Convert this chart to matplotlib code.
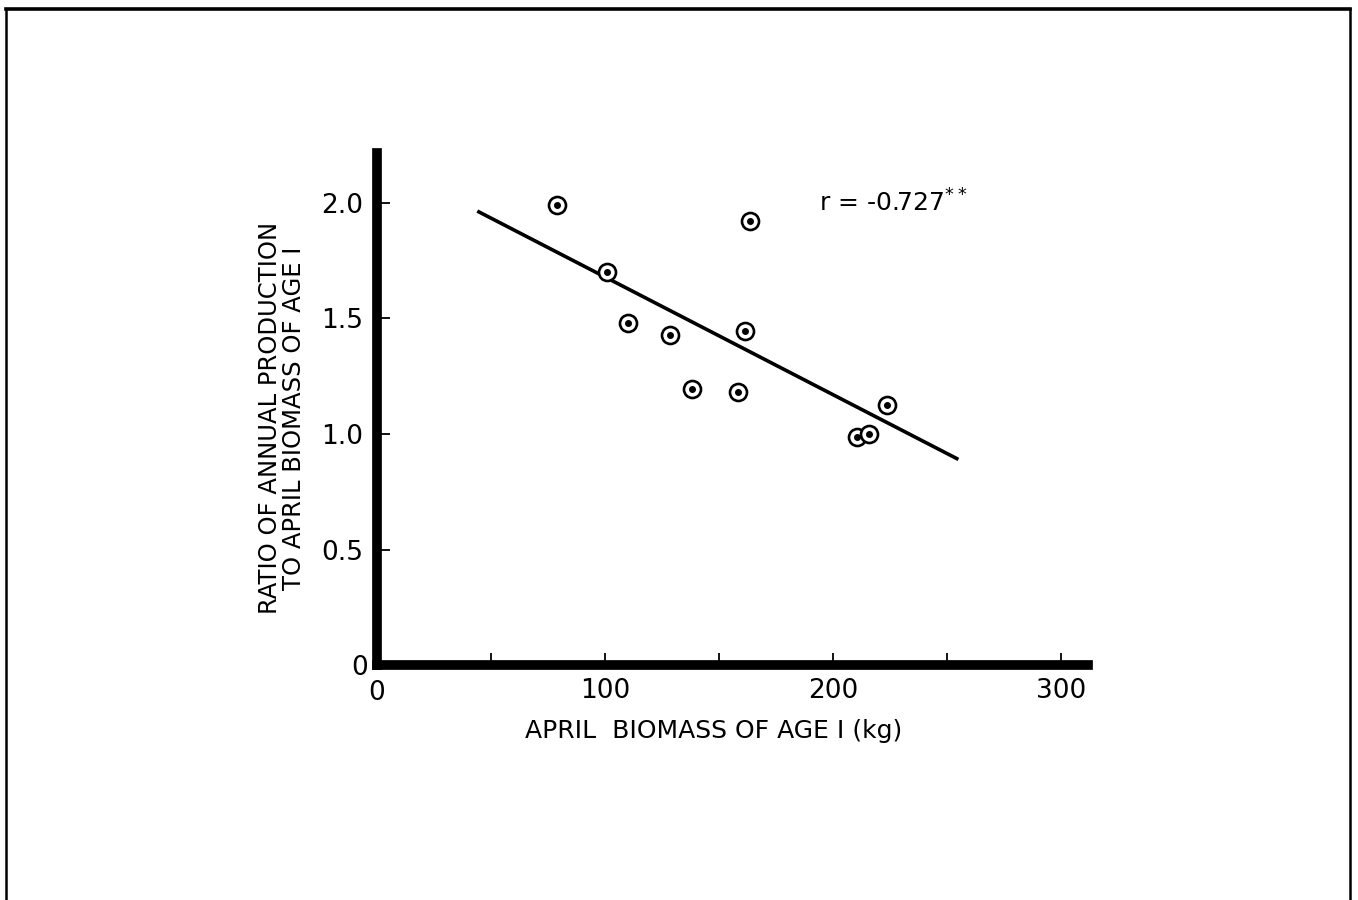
import numpy as np
import matplotlib.pyplot as plt
from matplotlib.lines import Line2D

# datos
biomasa = [79, 101, 110, 128.5, 138, 158.5, 161.5, 163.5, 210.5, 216, 223.5]
ratio = [1.99, 1.70, 1.48, 1.43, 1.195, 1.18, 1.445, 1.92, 0.985, 1.00, 1.125]
recta_x = [44, 255]
recta_y = [1.965, 0.89]
xticks = [50, 100, 150, 200, 250, 300]
xticklabels = ['', '100', '', '200', '', '300']
yticks = [0.5, 1.0, 1.5, 2.0]
yticklabels = ['0.5', '1.0', '1.5', '2.0']

fig = plt.figure(figsize=(13.58, 9), dpi=100)
ax = fig.add_axes([377/1358, 235/900, (1088-377)/1358, (747-235)/900])

ax.plot(recta_x, recta_y, color='black', lw=2.6, solid_capstyle='butt')
ax.scatter(biomasa, ratio, s=150, facecolors='white', edgecolors='black', linewidths=1.9, zorder=3)
ax.scatter(biomasa, ratio, s=16, color='black', zorder=4)

ax.set_xlim(0, (1088-377)/2.28)
ax.set_ylim(0, (665-153)/231)

for s in ['top', 'right']:
    ax.spines[s].set_visible(False)
for s in ['left', 'bottom']:
    ax.spines[s].set_linewidth(7)
    ax.spines[s].set_capstyle('projecting')

ax.set_xticks(xticks)
ax.set_xticklabels(xticklabels)
ax.set_yticks(yticks)
ax.set_yticklabels(yticklabels)
ax.tick_params(axis='both', direction='in', length=9, width=1.3, labelsize=19)
ax.tick_params(axis='x', pad=9)
ax.tick_params(axis='y', pad=10)
# los ceros en el origen
ax.text(0, -0.03, '0', ha='center', va='top', fontsize=19, transform=ax.get_xaxis_transform())
ax.text(-0.012, -0.005, '0', ha='right', va='center', fontsize=19, transform=ax.transAxes)

ax.set_xlabel('APRIL  BIOMASS OF AGE I (kg)', fontsize=18)
ax.xaxis.set_label_coords(0.474, -0.105)
ax.set_ylabel('RATIO OF ANNUAL PRODUCTION\nTO APRIL BIOMASS OF AGE I', fontsize=17.5,
              linespacing=1.0)
ax.yaxis.set_label_coords(-0.1, 0.482)

ax.text(194, 2.0, 'r = -0.727$^{**}$', fontsize=18, va='center')

# marco de la pagina
W, H = 1358, 900
fig.add_artist(Line2D([6/W, 6/W], [0, 1 - 9/H], color='black', lw=1.8))
fig.add_artist(Line2D([1350/W, 1350/W], [0, 1 - 9/H], color='black', lw=1.8))
fig.add_artist(Line2D([6/W, 1350/W], [1 - 9/H, 1 - 9/H], color='black', lw=2.6))

plt.savefig('out.png', dpi=100)
